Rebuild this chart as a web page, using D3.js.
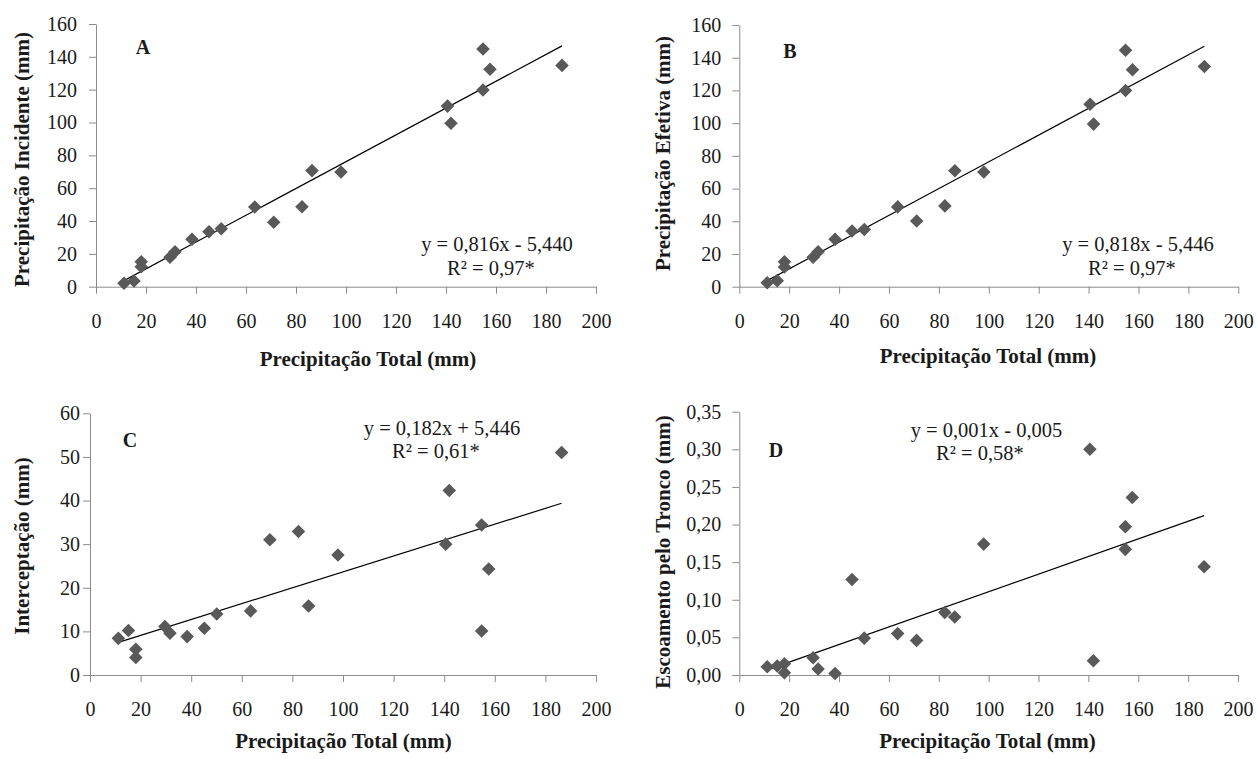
<!DOCTYPE html>
<html>
<head>
<meta charset="utf-8">
<script src="https://cdn.jsdelivr.net/npm/d3@7"></script>
<style>
  html, body { margin: 0; padding: 0; background: #fff; }
  svg text { font-family: "Liberation Serif", "Times New Roman", serif; }
</style>
</head>
<body>
<svg id="chart" width="1257" height="759"></svg>
<script>
// ---------- DATA ----------
const precipTotal   = [11.2, 15.2, 18.1, 18.1, 29.6, 31.6, 38.4, 45.2, 50.1, 63.5, 71.1, 82.4, 86.4, 98.0, 140.6, 142.0, 154.8, 154.8, 157.6, 186.4];
const precipIncid   = [2.1, 3.5, 15.2, 12.2, 17.9, 21.3, 28.9, 33.5, 35.3, 48.5, 39.2, 48.7, 70.7, 69.9, 110.0, 99.5, 144.8, 119.8, 132.4, 134.8];
const precipEfetiva = [2.4, 3.7, 15.3, 12.1, 18.0, 21.4, 29.0, 34.1, 35.0, 48.8, 40.2, 49.4, 70.9, 70.1, 111.5, 99.4, 144.6, 120.0, 132.6, 134.6];
const interceptacao = [8.4, 10.2, 4.0, 5.9, 11.1, 9.6, 8.8, 10.7, 14.0, 14.7, 31.0, 32.9, 15.8, 27.5, 30.0, 42.3, 10.1, 34.4, 24.3, 51.0];
const escoamento    = [0.011, 0.012, 0.015, 0.003, 0.023, 0.008, 0.002, 0.127, 0.049, 0.055, 0.046, 0.083, 0.077, 0.174, 0.300, 0.019, 0.197, 0.167, 0.236, 0.144];

// trend line coefficients [slope, intercept]
const trendA = [0.816, -5.440];
const trendB = [0.818, -5.446];
const trendC = [0.182, 5.446];
const trendD = [0.00117, -0.0063];

const xTicks  = [0, 20, 40, 60, 80, 100, 120, 140, 160, 180, 200];
const yTicksAB = [0, 20, 40, 60, 80, 100, 120, 140, 160];
const yTicksC = [0, 10, 20, 30, 40, 50, 60];
const yTicksD = [0, 0.05, 0.10, 0.15, 0.20, 0.25, 0.30, 0.35];

const xTitle = "Precipitação Total (mm)";
const yTitles = ["Precipitação Incidente (mm)", "Precipitação Efetiva (mm)", "Interceptação (mm)", "Escoamento pelo Tronco (mm)"];
const panelLetters = ["A", "B", "C", "D"];
const eqTexts = ["y = 0,816x - 5,440", "y = 0,818x - 5,446", "y = 0,182x + 5,446", "y = 0,001x - 0,005"];
const r2Texts = ["R² = 0,97*", "R² = 0,97*", "R² = 0,61*", "R² = 0,58*"];

// ---------- LAYOUT ----------
const panels = [
  { ys: precipIncid,   trend: trendA, yMax: 160,  yTicks: yTicksAB, fmt: d => d3.format("d")(d),
    x0: 96, x1: 596, yb: 286.7, yt: 24, lblGap: 12,
    letter: [143, 54], eq: [497, 251], r2: [491, 275], xt: [368, 366], yt2: [29, 159.5] },
  { ys: precipEfetiva, trend: trendB, yMax: 160,  yTicks: yTicksAB, fmt: d => d3.format("d")(d),
    x0: 739.3, x1: 1238.3, yb: 286.7, yt: 25, lblGap: 11,
    letter: [790, 58], eq: [1138, 251], r2: [1132, 275], xt: [988, 363], yt2: [670, 153.5] },
  { ys: interceptacao, trend: trendC, yMax: 60,   yTicks: yTicksC, fmt: d => d3.format("d")(d),
    x0: 90, x1: 596, yb: 675, yt: 413.3, lblGap: 3,
    letter: [130, 447], eq: [442, 435], r2: [436, 458], xt: [343.5, 748], yt2: [29, 546] },
  { ys: escoamento,    trend: trendD, yMax: 0.35, yTicks: yTicksD, fmt: d => d3.format(".2f")(d).replace(".", ","),
    x0: 739.3, x1: 1238, yb: 675, yt: 411.7, lblGap: 11,
    letter: [776, 456.5], eq: [986.5, 437], r2: [980, 460], xt: [987.5, 748], yt2: [670, 552] }
];

const svg = d3.select("#chart");
const axisColor = "#8c8c8c";
const textColor = "#1a1a1a";
const markColor = "#595959";
const serif = "'Liberation Serif', 'Times New Roman', serif";
const diamond = d3.symbol().type(d3.symbolSquare).size(92)();

panels.forEach((p, i) => {
  const x = d3.scaleLinear().domain([0, 200]).range([p.x0, p.x1]);
  const y = d3.scaleLinear().domain([0, p.yMax]).range([p.yb, p.yt]);
  const g = svg.append("g");

  // x axis
  const xa = g.append("g").attr("transform", `translate(0,${p.yb})`)
    .call(d3.axisBottom(x).tickValues(xTicks).tickSize(7).tickPadding(20).tickSizeOuter(0));
  xa.attr("font-family", serif);
  xa.select(".domain").attr("stroke", axisColor);
  xa.selectAll(".tick line").attr("stroke", axisColor);
  xa.selectAll(".tick text").attr("fill", textColor).style("font-size", "20px")
    .style("font-family", serif);

  // y axis
  const ya = g.append("g").attr("transform", `translate(${p.x0},0)`)
    .call(d3.axisLeft(y).tickValues(p.yTicks).tickFormat(p.fmt).tickSize(7).tickPadding(p.lblGap).tickSizeOuter(0));
  ya.attr("font-family", serif);
  ya.select(".domain").attr("stroke", axisColor);
  ya.selectAll(".tick line").attr("stroke", axisColor);
  ya.selectAll(".tick text").attr("fill", textColor).style("font-size", "20px")
    .style("font-family", serif);

  // trend line
  const xs = precipTotal;
  const xmin = d3.min(xs), xmax = d3.max(xs);
  const f = v => p.trend[0] * v + p.trend[1];
  g.append("path")
    .attr("d", d3.line()([[x(xmin), y(f(xmin))], [x(xmax), y(f(xmax))]]))
    .attr("stroke", "#000").attr("stroke-width", 1.2).attr("fill", "none");

  // points
  g.selectAll("path.pt").data(xs.map((v, k) => [v, p.ys[k]])).join("path")
    .attr("class", "pt")
    .attr("d", diamond)
    .attr("transform", d => `translate(${x(d[0])},${y(d[1])}) rotate(45)`)
    .attr("fill", markColor);

  // panel letter
  g.append("text").attr("x", p.letter[0]).attr("y", p.letter[1]).attr("text-anchor", "middle")
    .style("font-size", "20px").style("font-weight", "bold").attr("fill", textColor).text(panelLetters[i]);

  // equation
  g.append("text").attr("x", p.eq[0]).attr("y", p.eq[1]).attr("text-anchor", "middle")
    .style("font-size", "20.5px").attr("fill", textColor).text(eqTexts[i]);
  g.append("text").attr("x", p.r2[0]).attr("y", p.r2[1]).attr("text-anchor", "middle")
    .style("font-size", "20.5px").attr("fill", textColor).text(r2Texts[i]);

  // axis titles
  g.append("text").attr("x", p.xt[0]).attr("y", p.xt[1]).attr("text-anchor", "middle")
    .style("font-size", "21px").style("font-weight", "bold").attr("fill", textColor).text(xTitle);
  g.append("text").attr("transform", `translate(${p.yt2[0]},${p.yt2[1]}) rotate(-90)`)
    .attr("text-anchor", "middle")
    .style("font-size", "21px").style("font-weight", "bold").attr("fill", textColor).text(yTitles[i]);
});
</script>
</body>
</html>
